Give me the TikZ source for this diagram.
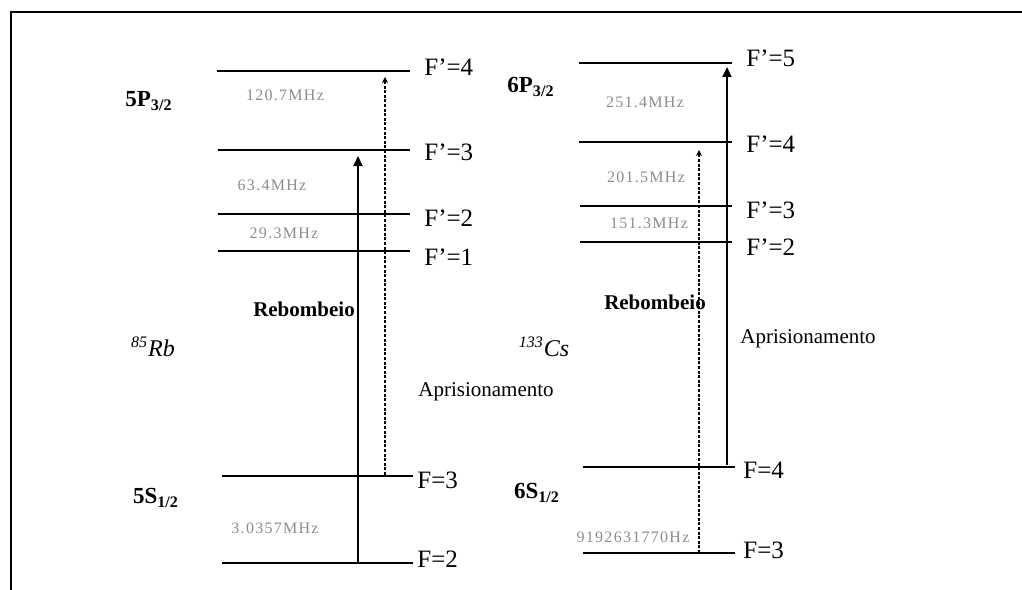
\documentclass[tikz,border=0pt]{standalone}
\usepackage{fontspec}
\setmainfont{Liberation Serif}
\newfontfamily\freqfont[LetterSpace=8]{Liberation Serif}
\usetikzlibrary{arrows.meta}

\begin{document}
\begin{tikzpicture}[x=0.5pt, y=-0.5pt,
		level/.style={line width=0.8pt},
		lvllabel/.style={anchor=west, inner sep=0pt, font=\fontsize{12.5}{14}\selectfont},
		freq/.style={inner sep=0pt, text=black!45, font=\freqfont\fontsize{8}{10}\selectfont},
		term/.style={inner sep=0pt, font=\fontsize{11.5}{13}\selectfont\bfseries},
		atom/.style={inner sep=0pt, font=\fontsize{12}{14}\selectfont\itshape},
		beam/.style={inner sep=0pt, font=\fontsize{10.5}{12}\selectfont},
		pump/.style={line width=1pt, -{Triangle[length=5pt, width=4.5pt]}},
		trap/.style={line width=0.6pt, dash pattern=on 1.5pt off 0.8pt, -{Stealth[length=3pt, width=3pt]}}]
	\useasboundingbox (0,0) rectangle (1022,589);
	\draw[line width=1.4pt] (11,600) -- (11,12) -- (1030,12);

	% 85Rb levels
	\coordinate (rbP4l) at (217,71);  \coordinate (rbP4r) at (410,71);
	\coordinate (rbP3l) at (218,150); \coordinate (rbP3r) at (410,150);
	\coordinate (rbP2l) at (218,214); \coordinate (rbP2r) at (410,214);
	\coordinate (rbP1l) at (218,251); \coordinate (rbP1r) at (410,251);
	\coordinate (rbS3l) at (222,476); \coordinate (rbS3r) at (413,476);
	\coordinate (rbS2l) at (222,563); \coordinate (rbS2r) at (413,563);

	\draw[level] (rbP4l) -- (rbP4r);
	\draw[level] (rbP3l) -- (rbP3r);
	\draw[level] (rbP2l) -- (rbP2r);
	\draw[level] (rbP1l) -- (rbP1r);
	\draw[level] (rbS3l) -- (rbS3r);
	\draw[level] (rbS2l) -- (rbS2r);

	\node[lvllabel] (rbP4t) at ([xshift=7pt,yshift=2pt]rbP4r) {F’=4};
	\node[lvllabel] (rbP3t) at ([xshift=7pt,yshift=-1pt]rbP3r) {F’=3};
	\node[lvllabel] (rbP2t) at ([xshift=7pt,yshift=-2pt]rbP2r) {F’=2};
	\node[lvllabel] (rbP1t) at ([xshift=7pt,yshift=-3pt]rbP1r) {F’=1};
	\node[lvllabel] (rbS3t) at ([xshift=2pt,yshift=-2pt]rbS3r) {F=3};
	\node[lvllabel] (rbS2t) at ([xshift=2pt,yshift=2pt]rbS2r) {F=2};

	\node[freq] (rbf1) at (285,95) {120.7MHz};
	\node[freq] (rbf2) at (272,185) {63.4MHz};
	\node[freq] (rbf3) at (284,233) {29.3MHz};
	\node[freq] (rbf4) at (275,528) {3.0357MHz};

	\node[term] (rbP) at (149,101) {5P\textsubscript{3/2}};
	\node[term] (rbS) at (156,498) {5S\textsubscript{1/2}};
	\node[atom] (rb) at (153,347) {\textsuperscript{85}Rb};
	\node[beam, font=\fontsize{10.5}{12}\selectfont\bfseries] (rbRep) at (304,309) {Rebombeio};
	\node[beam] (rbMot) at (486,392) {Aprisionamento};

	\coordinate (rbRepA) at (358,563); \coordinate (rbRepB) at (358,156);
	\coordinate (rbMotA) at (385,475); \coordinate (rbMotB) at (385,77);
	\draw[pump] (rbRepA) -- (rbRepB);
	\draw[trap] (rbMotA) -- (rbMotB);

	% 133Cs levels
	\coordinate (csP5l) at (579,63);  \coordinate (csP5r) at (732,63);
	\coordinate (csP4l) at (579,142); \coordinate (csP4r) at (732,142);
	\coordinate (csP3l) at (580,206); \coordinate (csP3r) at (732,206);
	\coordinate (csP2l) at (580,242); \coordinate (csP2r) at (732,242);
	\coordinate (csS4l) at (583,467); \coordinate (csS4r) at (735,467);
	\coordinate (csS3l) at (583,553); \coordinate (csS3r) at (735,553);

	\draw[level] (csP5l) -- (csP5r);
	\draw[level] (csP4l) -- (csP4r);
	\draw[level] (csP3l) -- (csP3r);
	\draw[level] (csP2l) -- (csP2r);
	\draw[level] (csS4l) -- (csS4r);
	\draw[level] (csS3l) -- (csS3r);

	\node[lvllabel] (csP5t) at ([xshift=7pt,yshift=2.5pt]csP5r) {F’=5};
	\node[lvllabel] (csP4t) at ([xshift=7pt,yshift=-1pt]csP4r) {F’=4};
	\node[lvllabel] (csP3t) at ([xshift=7pt,yshift=-2pt]csP3r) {F’=3};
	\node[lvllabel] (csP2t) at ([xshift=7pt,yshift=-2.5pt]csP2r) {F’=2};
	\node[lvllabel] (csS4t) at ([xshift=4pt,yshift=-1.5pt]csS4r) {F=4};
	\node[lvllabel] (csS3t) at ([xshift=4pt,yshift=1.5pt]csS3r) {F=3};

	\node[freq] (csf1) at (645,102) {251.4MHz};
	\node[freq] (csf2) at (646,177) {201.5MHz};
	\node[freq] (csf3) at (649,223) {151.3MHz};
	\node[freq] (csf4) at (633,537) {9192631770Hz};

	\node[term] (csP) at (531,87) {6P\textsubscript{3/2}};
	\node[term] (csS) at (537,493) {6S\textsubscript{1/2}};
	\node[atom] (cs) at (544,347) {\textsuperscript{133}Cs};
	\node[beam, font=\fontsize{10.5}{12}\selectfont\bfseries] (csRep) at (655,302) {Rebombeio};
	\node[beam] (csMot) at (808,339) {Aprisionamento};

	\coordinate (csRepA) at (699,553); \coordinate (csRepB) at (699,150);
	\coordinate (csMotA) at (727,465); \coordinate (csMotB) at (727,67);
	\draw[trap] (csRepA) -- (csRepB);
	\draw[pump] (csMotA) -- (csMotB);
\end{tikzpicture}
\end{document}
